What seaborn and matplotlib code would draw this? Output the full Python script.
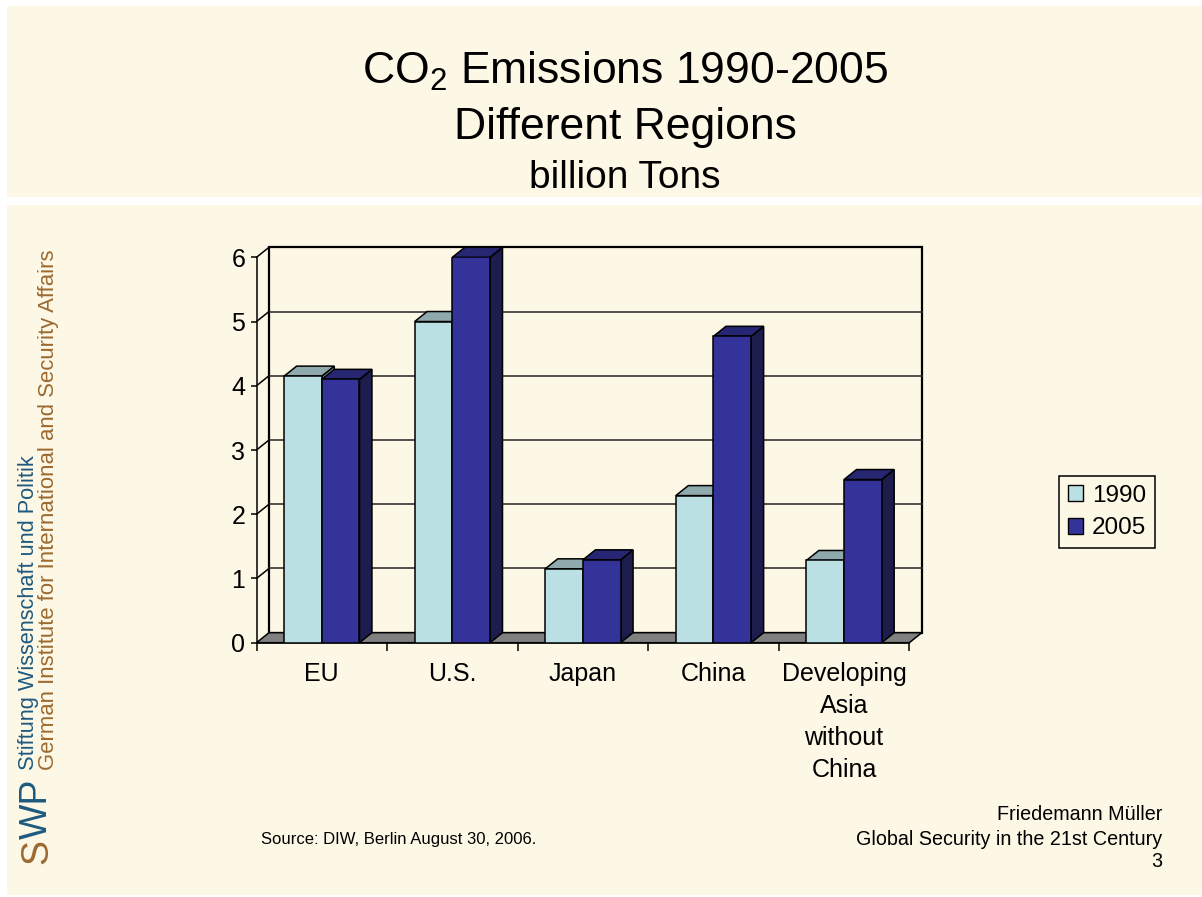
import numpy as np
import pandas as pd
import matplotlib
matplotlib.use("Agg")
import matplotlib.pyplot as plt
import seaborn as sns
from matplotlib.patches import Rectangle, Polygon, Patch

# ---- data (billion tons of CO2) ----
regions = ["EU", "U.S.", "Japan", "China", "Developing\nAsia\nwithout\nChina"]
years = ["1990", "2005"]
emissions_1990 = [4.15, 5.0, 1.15, 2.29, 1.28]
emissions_2005 = [4.10, 6.0, 1.29, 4.77, 2.54]
y_ticks = [0, 1, 2, 3, 4, 5, 6]

# ---- styling ----
front_colors = {"1990": "#BBE0E3", "2005": "#333399"}
top_colors = {"1990": "#8FAAAD", "2005": "#262673"}
side_colors = {"1990": "#7A9497", "2005": "#1C1C4D"}
CREAM = "#FDF7E6"
FLOOR = "#808080"
SWP_BLUE = "#1E5A7E"
SWP_BROWN = "#9C6A30"

sns.set_theme(style="white")
plt.rcParams["font.family"] = ["Liberation Sans", "DejaVu Sans"]
plt.rcParams["mathtext.default"] = "regular"
plt.rcParams["text.color"] = "black"
plt.rcParams["xtick.color"] = "black"
plt.rcParams["ytick.color"] = "black"

W, H = 1202, 897
fig = plt.figure(figsize=(W / 100, H / 100), dpi=100, facecolor="white")

# slide panels (kept underneath everything else)
fig.patches.append(Rectangle((7 / W, 1 - 197 / H), 1195 / W, 191 / H,
                             transform=fig.transFigure, facecolor=CREAM,
                             edgecolor="none", zorder=-10))
fig.patches.append(Rectangle((7 / W, 1 - 895 / H), 1195 / W, 690 / H,
                             transform=fig.transFigure, facecolor=CREAM,
                             edgecolor="none", zorder=-10))

ax = fig.add_axes([256.5 / W, 254.3 / H, 652.8 / W, 385.4 / H])
ax.patch.set_visible(False)

df = pd.DataFrame({
    "region": regions * 2,
    "year": [years[0]] * len(regions) + [years[1]] * len(regions),
    "value": emissions_1990 + emissions_2005,
})

sns.barplot(data=df, x="region", y="value", hue="year", palette=front_colors,
            hue_order=years, width=0.577, saturation=1, edgecolor="black",
            linewidth=1.1, legend=False, ax=ax)

x0, x1 = -0.5, len(regions) - 0.5
y0, y1 = 0, 6
ax.set_xlim(x0, x1)
ax.set_ylim(y0, y1)

# depth offset of the pseudo-3D box, in pixels, converted to data units
bb = ax.get_window_extent()
DX_PX, DY_PX = 12.5, 10.0
ddx = DX_PX * (x1 - x0) / bb.width
ddy = DY_PX * (y1 - y0) / bb.height

# back wall with gridlines
ax.add_patch(Rectangle((x0 + ddx, y0 + ddy), x1 - x0, y1 - y0, facecolor="none",
                       edgecolor="black", lw=1.6, zorder=1, clip_on=False))
for k in y_ticks[1:-1]:
    ax.plot([x0 + ddx, x1 + ddx], [k + ddy, k + ddy], color="#333333", lw=1.2,
            zorder=1, clip_on=False)
# side wall gridlines
for k in y_ticks[1:]:
    ax.plot([x0, x0 + ddx], [k, k + ddy], color="black", lw=1.1, zorder=1,
            clip_on=False)
# floor
ax.add_patch(Polygon([(x0, 0), (x1, 0), (x1 + ddx, ddy), (x0 + ddx, ddy)],
                     closed=True, facecolor=FLOOR, edgecolor="black", lw=1.1,
                     zorder=2, clip_on=False))

# give every bar a top and a side face
for i, (year, container) in enumerate(zip(years, ax.containers)):
    for rect in container:
        rect.set_zorder(5 + 2 * i)
        bx, bw, bh = rect.get_x(), rect.get_width(), rect.get_height()
        top = Polygon([(bx, bh), (bx + bw, bh), (bx + bw + ddx, bh + ddy),
                       (bx + ddx, bh + ddy)], closed=True,
                      facecolor=top_colors[year], edgecolor="black", lw=1.1,
                      zorder=4 + 2 * i, clip_on=False)
        side = Polygon([(bx + bw, 0), (bx + bw + ddx, ddy),
                        (bx + bw + ddx, bh + ddy), (bx + bw, bh)], closed=True,
                       facecolor=side_colors[year], edgecolor="black", lw=1.1,
                       zorder=4 + 2 * i, clip_on=False)
        ax.add_patch(side)
        ax.add_patch(top)

# axes, ticks
for name in ["top", "right"]:
    ax.spines[name].set_visible(False)
for name in ["left", "bottom"]:
    ax.spines[name].set_color("black")
    ax.spines[name].set_linewidth(1.1)
    ax.spines[name].set_zorder(3)

ax.set_yticks(y_ticks)
ax.set_yticklabels([str(t) for t in y_ticks])
ax.tick_params(axis="y", which="major", left=True, length=4, width=1.1,
               color="black", direction="out", pad=4, labelsize=18,
               labelcolor="black")
ax.set_xticks(range(len(regions)))
ax.set_xticklabels(regions, linespacing=1.42)
ax.tick_params(axis="x", which="major", bottom=False, length=0, pad=14,
               labelsize=18, labelcolor="black")
ax.set_xticks(np.arange(x0, x1 + 0.01, 1), minor=True)
ax.tick_params(axis="x", which="minor", bottom=True, length=6, width=1.1,
               color="black", direction="out")
ax.set_xlabel("")
ax.set_ylabel("")

# legend
handles = [Patch(facecolor=front_colors[y], edgecolor="black", lw=1.0, label=y)
           for y in years]
leg = fig.legend(handles=handles, loc="upper left",
                 bbox_to_anchor=(1059 / W, 1 - 476 / H), frameon=True,
                 fancybox=False, fontsize=17.5, handlelength=0.65,
                 handleheight=0.65, handletextpad=0.35, borderpad=0.35,
                 labelspacing=0.45, borderaxespad=0)
frame = leg.get_frame()
frame.set_edgecolor("black")
frame.set_linewidth(1.1)
frame.set_facecolor(CREAM)
frame.set_alpha(1)

# titles
cx = 625 / W
fig.text(cx, 1 - 83.3 / H, r"CO$_2$ Emissions 1990-2005", ha="center",
         va="baseline", fontsize=32)
fig.text(cx, 1 - 139.3 / H, "Different Regions", ha="center", va="baseline",
         fontsize=32)
fig.text(cx, 1 - 188.3 / H, "billion Tons", ha="center", va="baseline",
         fontsize=28)

# footer
fig.text(261 / W, 1 - 844 / H, "Source: DIW, Berlin August 30, 2006.",
         ha="left", va="baseline", fontsize=12)
fig.text(1162 / W, 1 - 820 / H, "Friedemann Müller", ha="right",
         va="baseline", fontsize=14.2)
fig.text(1162 / W, 1 - 845 / H, "Global Security in the 21st Century",
         ha="right", va="baseline", fontsize=14.2)
fig.text(1162 / W, 1 - 867 / H, "3", ha="right", va="baseline", fontsize=14.2)

# institute logo text along the left edge
s_txt = fig.text(37 / W, 1 - 864 / H, "S", rotation=90, ha="center",
                 va="bottom", fontsize=27, color=SWP_BROWN)
fig.canvas.draw()
s_box = s_txt.get_window_extent().transformed(fig.transFigure.inverted())
fig.text(37 / W, s_box.y1, "WP", rotation=90, ha="center", va="bottom",
         fontsize=27, color=SWP_BLUE)
fig.text(29 / W, 1 - 770 / H, "Stiftung Wissenschaft und Politik",
         rotation=90, ha="center", va="bottom", fontsize=15.7, color=SWP_BLUE)
fig.text(49 / W, 1 - 770 / H,
         "German Institute for International and Security Affairs",
         rotation=90, ha="center", va="bottom", fontsize=15.9, color=SWP_BROWN)

fig.savefig("out.png", dpi=100, facecolor="white")
